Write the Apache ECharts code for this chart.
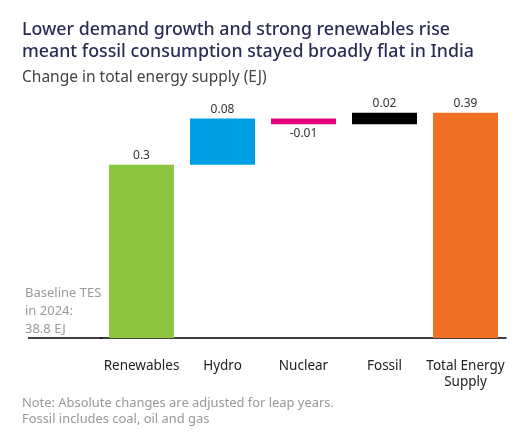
<!DOCTYPE html>
<html>
<head>
<meta charset="utf-8">
<script src="https://cdn.jsdelivr.net/npm/echarts@6/dist/echarts.min.js"></script>
<style>
  html, body { margin: 0; padding: 0; background: #fff; }
  #chart { width: 516px; height: 436px; }
</style>
</head>
<body>
<div id="chart"></div>
<script>
var categories = ['Renewables', 'Hydro', 'Nuclear', 'Fossil', 'Total Energy\nSupply'];
var changes = [0.3, 0.08, -0.01, 0.02];
var totalChange = 0.39;
var valueLabels = ['0.3', '0.08', '-0.01', '0.02', '0.39'];
var barColors = ['#8DC63F', '#009FE3', '#E5007D', '#000000', '#F07123'];

var baseData = [];
var barData = [];
var running = 0;
changes.forEach(function (c, i) {
    var start = running;
    running = running + c;
    baseData.push(Math.min(start, running));
    barData.push({
        value: Math.abs(c),
        itemStyle: { color: barColors[i] },
        label: { position: c < 0 ? 'bottom' : 'top' }
    });
});
baseData.push(0);
barData.push({ value: totalChange, itemStyle: { color: barColors[4] }, label: { position: 'top' } });

var font = '"Noto Sans", "Open Sans", sans-serif';
var chart = echarts.init(document.getElementById('chart'));
chart.setOption({
    animation: false,
    backgroundColor: '#fff',
    textStyle: { fontFamily: font },
    title: [
        {
            text: 'Lower demand growth and strong renewables rise\nmeant fossil consumption stayed broadly flat in India',
            subtext: 'Change in total energy supply (EJ)',
            left: 17,
            top: 14,
            itemGap: 6,
            textStyle: { fontFamily: font, fontSize: 17.8, fontWeight: 500, color: '#2B2C55', lineHeight: 22 },
            subtextStyle: { fontFamily: font, fontSize: 15.5, color: '#444', lineHeight: 18 }
        },
        {
            text: 'Note: Absolute changes are adjusted for leap years.\nFossil includes coal, oil and gas',
            left: 17,
            top: 390,
            textStyle: { fontFamily: font, fontSize: 12.9, fontWeight: 'normal', color: '#999', lineHeight: 16 }
        }
    ],
    grid: { left: 101, right: 10, top: 78, bottom: 98 },
    xAxis: {
        type: 'category',
        data: categories,
        axisLine: { lineStyle: { color: '#000', width: 1.5 } },
        axisTick: { show: false },
        axisLabel: { interval: 0, color: '#222', fontSize: 13.5, margin: 20, lineHeight: 16, fontFamily: font }
    },
    yAxis: { type: 'value', min: 0, max: 0.45, show: false, splitLine: { show: false } },
    graphic: [
        {
            type: 'line',
            shape: { x1: 28, y1: 338, x2: 102, y2: 338 },
            style: { stroke: '#000', lineWidth: 1.5 }
        },
        {
            type: 'text',
            left: 25,
            top: 284,
            style: {
                text: 'Baseline TES\nin 2024:\n38.8 EJ',
                fill: '#9A9A9A',
                font: '13px ' + font,
                lineHeight: 18
            }
        }
    ],
    series: [
        {
            type: 'bar',
            stack: 'w',
            barWidth: 65,
            itemStyle: { color: 'transparent' },
            emphasis: { disabled: true },
            data: baseData
        },
        {
            type: 'bar',
            stack: 'w',
            barWidth: 65,
            label: {
                show: true,
                distance: 3,
                color: '#333',
                fontSize: 12,
                fontFamily: font,
                formatter: function (p) { return valueLabels[p.dataIndex]; }
            },
            data: barData
        }
    ]
});
</script>
</body>
</html>
